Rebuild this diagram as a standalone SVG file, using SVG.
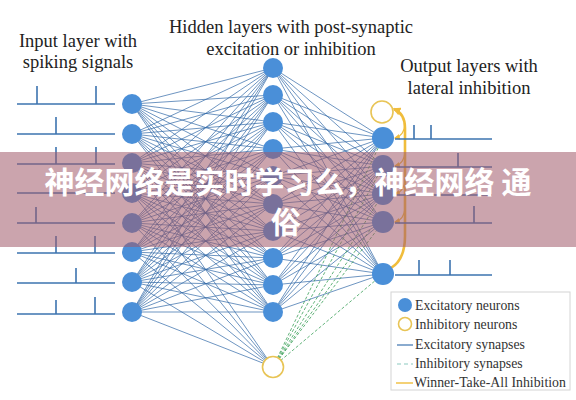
<svg xmlns="http://www.w3.org/2000/svg" width="576" height="400" viewBox="0 0 576 400">
<defs>
<style>
.t{font-family:"Liberation Serif","Times New Roman",serif;font-size:18.5px;fill:#222;text-anchor:middle}
.lg{font-family:"Liberation Serif","Times New Roman",serif;font-size:13.8px;fill:#333}
.ex{fill:#4a8fd8}
.inh{fill:#fff;stroke:#e8c455;stroke-width:1.6}
.spk{fill:none;stroke:#3d74b0;stroke-width:1.6}
.syn{fill:none;stroke:#2f67a6;stroke-width:0.7}
.isyn{fill:none;stroke:#3aa058;stroke-width:0.8;stroke-dasharray:3 2}
.wta{fill:none;stroke:#f0bd3c}
.banner{font-family:"Noto Sans CJK SC","Noto Sans",sans-serif;font-size:30px;font-weight:bold;fill:#fff;text-anchor:middle}
</style>
<marker id="ah" viewBox="0 0 10 10" refX="8" refY="5" markerWidth="6" markerHeight="6" markerUnits="userSpaceOnUse" orient="auto">
<path d="M0 0 L10 5 L0 10 z" fill="#f0bd3c"/>
</marker>
<marker id="ah2" viewBox="0 0 10 10" refX="8" refY="5" markerWidth="8" markerHeight="8" markerUnits="userSpaceOnUse" orient="auto">
<path d="M0 0 L10 5 L0 10 z" fill="#f0bd3c"/>
</marker>
</defs>
<rect width="576" height="400" fill="#fff"/>

<g id="titles">
<text class="t" x="78" y="47">Input layer with</text>
<text class="t" x="78" y="68">spiking signals</text>
<text class="t" x="291" y="33">Hidden layers with post-synaptic</text>
<text class="t" x="291" y="55">excitation or inhibition</text>
<text class="t" x="469" y="72">Output layers with</text>
<text class="t" x="469" y="94">lateral inhibition</text>
</g>

<g id="connectors">
<path class="syn" d="
M132 104L273 68M132 104L273 95M132 104L273 122M132 104L273 149M132 104L273 176M132 104L273 204M132 104L273 231M132 104L273 258M132 104L273 285M132 104L273 312
M132 134L273 68M132 134L273 95M132 134L273 122M132 134L273 149M132 134L273 176M132 134L273 204M132 134L273 231M132 134L273 258M132 134L273 285M132 134L273 312
M132 163L273 68M132 163L273 95M132 163L273 122M132 163L273 149M132 163L273 176M132 163L273 204M132 163L273 231M132 163L273 258M132 163L273 285M132 163L273 312
M132 193L273 68M132 193L273 95M132 193L273 122M132 193L273 149M132 193L273 176M132 193L273 204M132 193L273 231M132 193L273 258M132 193L273 285M132 193L273 312
M132 223L273 68M132 223L273 95M132 223L273 122M132 223L273 149M132 223L273 176M132 223L273 204M132 223L273 231M132 223L273 258M132 223L273 285M132 223L273 312
M132 252L273 68M132 252L273 95M132 252L273 122M132 252L273 149M132 252L273 176M132 252L273 204M132 252L273 231M132 252L273 258M132 252L273 285M132 252L273 312
M132 282L273 68M132 282L273 95M132 282L273 122M132 282L273 149M132 282L273 176M132 282L273 204M132 282L273 231M132 282L273 258M132 282L273 285M132 282L273 312
M132 312L273 68M132 312L273 95M132 312L273 122M132 312L273 149M132 312L273 176M132 312L273 204M132 312L273 231M132 312L273 258M132 312L273 285M132 312L273 312
M132 163L273 367M132 193L273 367M132 223L273 367M132 252L273 367M132 282L273 367M132 312L273 367
M273 68L383 138M273 68L383 166M273 68L383 194M273 68L383 222M273 68L383 274
M273 95L383 138M273 95L383 166M273 95L383 194M273 95L383 222M273 95L383 274
M273 122L383 138M273 122L383 166M273 122L383 194M273 122L383 222M273 122L383 274
M273 149L383 138M273 149L383 166M273 149L383 194M273 149L383 222M273 149L383 274
M273 176L383 138M273 176L383 166M273 176L383 194M273 176L383 222M273 176L383 274
M273 204L383 138M273 204L383 166M273 204L383 194M273 204L383 222M273 204L383 274
M273 231L383 138M273 231L383 166M273 231L383 194M273 231L383 222M273 231L383 274
M273 258L383 138M273 258L383 166M273 258L383 194M273 258L383 222M273 258L383 274
M273 285L383 138M273 285L383 166M273 285L383 194M273 285L383 222M273 285L383 274
M273 312L383 138M273 312L383 166M273 312L383 194M273 312L383 222M273 312L383 274"/>
<path class="isyn" d="M273 367L383 138M273 367L383 166M273 367L383 194M273 367L383 222M273 367L383 274M273 367L370 230"/>
<path class="wta" stroke-width="2.6" marker-end="url(#ah2)" d="M391 268 C401 262 405 250 405 236 L405 128 C405 118 401 112 394 109"/>
<path class="wta" stroke-width="1.2" marker-end="url(#ah)" d="M405 124 Q404 136 395 138"/>
<path class="wta" stroke-width="1.2" marker-end="url(#ah)" d="M405 152 Q404 164 395 166"/>
<path class="wta" stroke-width="1.2" marker-end="url(#ah)" d="M405 180 Q404 192 395 194"/>
<path class="wta" stroke-width="1.2" marker-end="url(#ah)" d="M405 208 Q404 220 395 222"/>
</g>

<g id="in1"><path class="spk" d="M17 104H115M37 104V86M96 104V86"/><circle class="ex" cx="132" cy="104" r="10"/></g>
<g id="in2"><path class="spk" d="M17 134H115M56 134V117"/><circle class="ex" cx="132" cy="134" r="10"/></g>
<g id="in3"><path class="spk" d="M17 164H115M56 164V147M96 164V147"/><circle class="ex" cx="132" cy="163" r="10"/></g>
<g id="in4"><path class="spk" d="M17 193H115"/><circle class="ex" cx="132" cy="193" r="10"/></g>
<g id="in5"><path class="spk" d="M17 223H115M36 223V207"/><circle class="ex" cx="132" cy="223" r="10"/></g>
<g id="in6"><path class="spk" d="M17 253H115M56 253V236M95 253V236"/><circle class="ex" cx="132" cy="252" r="10"/></g>
<g id="in7"><path class="spk" d="M17 283H115M76 283V268"/><circle class="ex" cx="132" cy="282" r="10"/></g>
<g id="in8"><path class="spk" d="M17 314H115M56 314V300M95 314V297"/><circle class="ex" cx="132" cy="312" r="10"/></g>

<g id="h1"><circle class="ex" cx="273" cy="68" r="10"/></g>
<g id="h2"><circle class="ex" cx="273" cy="95" r="10"/></g>
<g id="h3"><circle class="ex" cx="273" cy="122" r="10"/></g>
<g id="h4"><circle class="ex" cx="273" cy="149" r="10"/></g>
<g id="h5"><circle class="ex" cx="273" cy="176" r="10"/></g>
<g id="h6"><circle class="ex" cx="273" cy="204" r="10"/></g>
<g id="h7"><circle class="ex" cx="273" cy="231" r="10"/></g>
<g id="h8"><circle class="ex" cx="273" cy="258" r="10"/></g>
<g id="h9"><circle class="ex" cx="273" cy="285" r="10"/></g>
<g id="h10"><circle class="ex" cx="273" cy="312" r="10"/></g>
<g id="hinh"><circle class="inh" cx="273" cy="367" r="10.5"/></g>

<g id="oinh"><circle class="inh" cx="382" cy="112" r="11"/></g>
<g id="o1"><path class="spk" d="M395 139H492M414 139V125M431 139V125"/><circle class="ex" cx="383" cy="138" r="11"/></g>
<g id="o2"><path class="spk" d="M395 167H492M458 167V153"/><circle class="ex" cx="383" cy="166" r="11"/></g>
<g id="o3"><path class="spk" d="M395 195H492"/><circle class="ex" cx="383" cy="194" r="11"/></g>
<g id="o4"><path class="spk" d="M395 223H492M474 223V206"/><circle class="ex" cx="383" cy="222" r="11"/></g>
<g id="o5"><path class="spk" d="M395 275H492M419 275V260M450 275V260"/><circle class="ex" cx="383" cy="274" r="11"/></g>

<g id="legend">
<rect x="391" y="292" width="179" height="98" fill="#fff" stroke="#d4d4d4" stroke-width="1"/>
<circle class="ex" cx="405" cy="305" r="7"/>
<text class="lg" x="415" y="310">Excitatory neurons</text>
<circle class="inh" cx="405" cy="324" r="6.5"/>
<text class="lg" x="415" y="329">Inhibitory neurons</text>
<path d="M397 345H413" stroke="#3d74b0" stroke-width="1.2"/>
<text class="lg" x="415" y="349">Excitatory synapses</text>
<path d="M397 364H413" stroke="#8ccac0" stroke-width="1.2" stroke-dasharray="4 3"/>
<text class="lg" x="415" y="368">Inhibitory synapses</text>
<path d="M396 383H413" stroke="#f0bd3c" stroke-width="1.4"/>
<text class="lg" x="414" y="387">Winner-Take-All Inhibition</text>
</g>

<g id="banner">
<rect x="0" y="152" width="576" height="95" fill="#a05a6a" opacity="0.55"/>
<text class="banner" x="288" y="193">神经网络是实时学习么，神经网络 通</text>
<text class="banner" x="286" y="233">俗</text>
</g>
</svg>
